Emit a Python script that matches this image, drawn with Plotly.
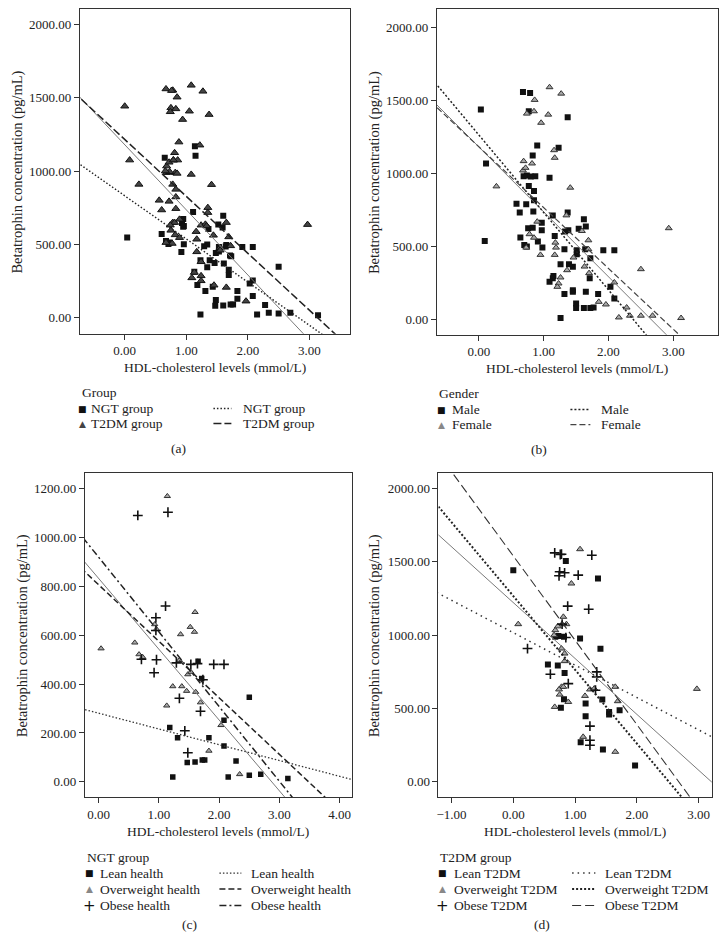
import plotly.graph_objects as go

# The page body has an 8px margin, so the figure is drawn 16px smaller and all
# reference pixel positions are shifted by that offset.
PAGE_W, PAGE_H, OFF = 727, 942, 8
W, H = PAGE_W - 2 * OFF, PAGE_H - 2 * OFF
FONT = "Liberation Serif"

# ---------------- data ----------------
# NGT group (panel c) by BMI class
ngt_lean_x = [1.65, 1.71, 2.50, 2.08, 1.18, 1.31, 1.83, 2.08, 1.47, 1.60, 1.72, 1.76, 2.28, 1.23, 2.15, 2.50, 2.69, 3.14]
ngt_lean_y = [494, 423, 346, 252, 222, 181, 181, 147, 79, 81, 89, 89, 85, 20, 20, 27, 31, 14]
ngt_ow_x = [1.14, 0.04, 1.60, 1.52, 1.59, 1.36, 0.60, 0.67, 0.73, 0.93, 0.96, 1.34, 1.48, 1.53, 1.23, 1.38, 1.46, 1.61, 1.69, 1.13, 2.03, 1.83, 2.34]
ngt_ow_y = [1170, 546, 695, 634, 614, 604, 570, 522, 511, 645, 625, 498, 440, 450, 391, 391, 372, 368, 325, 312, 232, 127, 31]
ngt_ob_x = [0.65, 1.15, 1.11, 0.95, 0.95, 0.71, 0.96, 0.92, 1.29, 1.53, 1.64, 1.91, 2.08, 1.34, 1.69, 1.43, 1.48, 1.73]
ngt_ob_y = [1091, 1104, 720, 672, 620, 502, 500, 447, 487, 481, 484, 481, 481, 342, 289, 209, 119, 418]

# T2DM group (panel d) by BMI class
t2_lean_x = [0.00, 0.85, 1.37, 1.08, 1.41, 0.68, 0.82, 0.73, 0.56, 0.72, 0.83, 0.82, 0.77, 1.17, 1.17, 1.44, 1.55, 1.55, 1.72, 1.09, 1.45, 1.97]
t2_lean_y = [1443, 1505, 1386, 977, 907, 989, 989, 995, 800, 793, 743, 564, 505, 534, 448, 561, 477, 459, 489, 270, 220, 111]
t2_ow_x = [1.08, 0.94, 0.08, 0.81, 0.79, 0.68, 0.66, 0.78, 0.83, 0.83, 0.78, 0.81, 0.74, 0.75, 0.67, 0.89, 1.16, 1.24, 1.31, 1.65, 1.69, 1.13, 1.65, 2.97, 0.72, 0.86]
t2_ow_y = [1586, 1352, 1075, 1125, 1075, 1034, 1000, 909, 875, 823, 648, 648, 630, 595, 511, 545, 586, 630, 636, 648, 550, 307, 205, 634, 1060, 1075]
t2_ob_x = [0.67, 0.78, 1.27, 0.75, 0.74, 0.83, 1.05, 0.88, 1.22, 0.79, 0.85, 0.23, 0.60, 0.89, 1.35, 1.35, 1.24, 1.24, 1.24, 1.33, 0.76]
t2_ob_y = [1561, 1552, 1545, 1432, 1405, 1425, 1409, 1198, 1177, 1075, 984, 909, 734, 670, 750, 716, 380, 284, 250, 625, 1550]

# Gender (panel b)
male_x = [0.03, 0.11, 0.09, 0.68, 0.79, 0.77, 1.37, 0.90, 1.23, 0.83, 1.09, 0.69, 0.74, 0.80, 0.87, 0.77, 0.85, 0.85,
          0.58, 0.73, 0.63, 0.84, 1.14, 1.37, 0.76, 0.83, 0.97, 0.97, 0.64, 1.17, 0.91, 0.70, 0.74, 0.98, 1.33, 1.38,
          1.32, 1.62, 1.54, 1.65, 1.51, 1.51, 1.64, 1.72, 1.92, 2.09, 1.26, 1.39, 1.45, 1.15, 1.14, 1.09, 1.32, 1.45,
          1.45, 1.65, 1.71, 1.84, 2.03, 2.09, 1.50, 1.50, 1.62, 1.72, 1.77, 1.26]
male_y = [1437, 1067, 536, 1558, 1551, 1425, 1384, 1190, 1174, 1122, 969, 980, 985, 978, 980, 912, 878, 814,
          791, 787, 730, 737, 711, 730, 623, 627, 661, 609, 559, 570, 531, 508, 497, 490, 600, 609,
          479, 684, 620, 634, 445, 472, 479, 417, 472, 472, 376, 376, 358, 296, 280, 255, 171, 198,
          187, 187, 280, 171, 221, 141, 107, 75, 75, 75, 80, 7]
female_x = [1.09, 1.27, 0.86, 0.74, 0.85, 1.07, 0.96, 1.16, 1.17, 0.69, 0.82, 0.68, 0.72, 0.27, 1.41, 0.90, 1.35,
            1.59, 1.69, 1.69, 0.78, 0.85, 0.73, 0.95, 1.17, 1.18, 1.19, 1.36, 1.26, 1.23, 1.21, 1.46, 1.63, 1.70,
            1.85, 1.96, 2.28, 2.33, 2.16, 2.50, 2.68, 2.50, 2.93, 3.12, 2.09]
female_y = [1590, 1546, 1503, 1409, 1425, 1402, 1346, 1158, 1106, 1083, 1067, 1019, 1037, 910, 901, 668, 711,
            604, 540, 479, 582, 558, 490, 440, 440, 524, 490, 335, 285, 244, 221, 422, 360, 315,
            118, 100, 79, 23, 11, 23, 23, 342, 623, 7, 251]

# Fit lines: (intercept, slope)
fit_a = {"Total": (1180, -445), "NGT group": (831, -295), "T2DM group": (1216, -389)}
fit_b = {"Total": (1180, -445), "Male": (1262, -531), "Female": (1181, -417)}
fit_c = {"Total": (833, -290), "Lean health": (281, -64.6), "Overweight health": (807, -231.6), "Obese health": (920, -306)}
fit_d = {"Total": (1222, -381), "Lean T2DM": (1017, -221), "Overweight T2DM": (1267, -503), "Obese T2DM": (1540, -575)}

# axis ranges
xr = {"a": [-0.73, 3.66], "b": [-0.65, 3.69], "c": [-0.23, 4.2], "d": [-1.21, 3.21]}
yr = {"a": [-111, 2104], "b": [-107, 2123], "c": [-64, 1264], "d": [-106, 2104]}
ydt = {"a": 500, "b": 500, "c": 200, "d": 500}

# page-pixel boxes of plot areas (left, top, right, bottom)
box = {"a": (78, 8.5, 349, 333), "b": (436, 8.5, 718, 334), "c": (83, 472.7, 350.7, 797.3), "d": (437.7, 472.7, 711.7, 797.3)}
axn = {"a": ("x", "y", ""), "b": ("x2", "y2", "2"), "c": ("x3", "y3", "3"), "d": ("x4", "y4", "4")}


def X(px):
    return (px - OFF) / W


def Y(py):
    return 1 - (py - OFF) / H


fig = go.Figure()

SQ = dict(symbol="square", size=6, color="#111", line=dict(width=0))
TRI_A = dict(symbol="triangle-up", size=7, color="#444", line=dict(width=1, color="#111"))
TRI = dict(symbol="triangle-up", size=6, color="#a8a8a8", line=dict(width=1, color="#333"))
PLUS = dict(symbol="cross-thin", size=7, line=dict(width=1.6, color="#111"))


def pts(p, xs, ys, marker):
    xa, ya, _ = axn[p]
    fig.add_trace(go.Scatter(x=xs, y=ys, mode="markers", marker=marker, xaxis=xa, yaxis=ya,
                             showlegend=False, hoverinfo="skip", cliponaxis=True))


def fit(p, coef, color, width, dash):
    xa, ya, _ = axn[p]
    a, b = coef
    xs = [xr[p][0] - 0.5, xr[p][1] + 0.5]
    ys = [a + b * v for v in xs]
    fig.add_trace(go.Scatter(x=xs, y=ys, mode="lines", line=dict(color=color, width=width, dash=dash),
                             xaxis=xa, yaxis=ya, showlegend=False, hoverinfo="skip"))


SOLID = ("#7a7a7a", 1, "solid")
STY = {
    "NGT group": ("#222", 1.4, "1.5px,2px"),
    "T2DM group": ("#222", 1.5, "8px,3px"),
    "Male": ("#222", 1.5, "2px,2px"),
    "Female": ("#444", 1.2, "6px,3px"),
    "Lean health": ("#333", 1.3, "1.5px,2px"),
    "Overweight health": ("#222", 1.5, "6px,3px"),
    "Obese health": ("#222", 1.5, "7px,3px,2px,3px"),
    "Lean T2DM": ("#333", 1.5, "1.5px,4px"),
    "Overweight T2DM": ("#222", 2, "2px,2px"),
    "Obese T2DM": ("#333", 1.1, "9px,4px"),
}

# Panel a
pts("a", ngt_lean_x + ngt_ow_x + ngt_ob_x, ngt_lean_y + ngt_ow_y + ngt_ob_y, SQ)
pts("a", t2_lean_x + t2_ow_x + t2_ob_x, t2_lean_y + t2_ow_y + t2_ob_y, TRI_A)
fit("a", fit_a["Total"], *SOLID)
fit("a", fit_a["NGT group"], *STY["NGT group"])
fit("a", fit_a["T2DM group"], *STY["T2DM group"])

# Panel b
pts("b", male_x, male_y, SQ)
pts("b", female_x, female_y, TRI)
fit("b", fit_b["Total"], *SOLID)
fit("b", fit_b["Male"], *STY["Male"])
fit("b", fit_b["Female"], *STY["Female"])

# Panel c
pts("c", ngt_lean_x, ngt_lean_y, dict(SQ, size=5.5))
pts("c", ngt_ow_x, ngt_ow_y, dict(TRI, size=5.5))
pts("c", ngt_ob_x, ngt_ob_y, PLUS)
fit("c", fit_c["Total"], *SOLID)
for k in ["Lean health", "Overweight health", "Obese health"]:
    fit("c", fit_c[k], *STY[k])

# Panel d
pts("d", t2_lean_x, t2_lean_y, SQ)
pts("d", t2_ow_x, t2_ow_y, TRI)
pts("d", t2_ob_x, t2_ob_y, PLUS)
fit("d", fit_d["Total"], *SOLID)
for k in ["Lean T2DM", "Overweight T2DM", "Obese T2DM"]:
    fit("d", fit_d[k], *STY[k])

layout = dict(width=W, height=H, margin=dict(l=0, r=0, t=0, b=0), plot_bgcolor="white",
              paper_bgcolor="white", showlegend=False, font=dict(family=FONT, size=13, color="#222"))

annotations = []
shapes = []
for p in "abcd":
    l, t, r, b = box[p]
    xa, ya, sfx = axn[p]
    common = dict(showline=True, mirror=True, linecolor="#333", linewidth=1, ticks="outside", ticklen=5,
                  tickcolor="#333", tickformat=".2f", showgrid=False, zeroline=False,
                  tickfont=dict(family=FONT, size=13, color="#222"), fixedrange=True)
    layout["xaxis" + sfx] = dict(common, domain=[X(l), X(r)], range=xr[p], dtick=1, tick0=0, anchor=ya)
    layout["yaxis" + sfx] = dict(common, domain=[Y(b), Y(t)], range=yr[p], dtick=ydt[p], tick0=0, anchor=xa)
    # axis titles
    annotations.append(dict(text="HDL-cholesterol levels (mmol/L)", xref="paper", yref="paper",
                            x=X((l + r) / 2), y=Y(b + 34), showarrow=False, xanchor="center", yanchor="middle",
                            font=dict(family=FONT, size=13.5, color="#222")))
    ytx = {"a": 16, "b": 373, "c": 20, "d": 373}[p]
    annotations.append(dict(text="Betatrophin concentration (pg/mL)", xref="paper", yref="paper",
                            x=X(ytx), y=Y((t + b) / 2), showarrow=False, textangle=-90, xanchor="center",
                            yanchor="middle", font=dict(family=FONT, size=14.5, color="#222")))

LEG = {
    "a": dict(title="Group", x0=78, sx=81, tx=87, lx0=212, lx1=230, ltx=240, ty=392, rows=[408, 423],
              items=[("sq", "NGT group"), ("tri_a", "T2DM group")], lab="(a)", labx=176.7, laby=448),
    "b": dict(title="Gender", x0=436, sx=441, tx=449, lx0=570, lx1=590, ltx=599, ty=393, rows=[409, 424],
              items=[("sq", "Male"), ("tri", "Female")], lab="(b)", labx=538, laby=449),
    "c": dict(title="NGT group", x0=83, sx=87.7, tx=96.7, lx0=218, lx1=240, ltx=248, ty=857, rows=[873, 889, 905.5],
              items=[("sq", "Lean health"), ("tri", "Overweight health"), ("plus", "Obese health")],
              lab="(c)", labx=187.7, laby=924),
    "d": dict(title="T2DM group", x0=437.7, sx=441.7, tx=451.7, lx0=571.7, lx1=595, ltx=602.7, ty=857,
              rows=[873, 889, 905.5],
              items=[("sq", "Lean T2DM"), ("tri", "Overweight T2DM"), ("plus", "Obese T2DM")],
              lab="(d)", labx=541.7, laby=924),
}
GLYPH = {"sq": ("■", "#111", 9), "tri_a": ("▲", "#444", 9), "tri": ("▲", "#888", 9), "plus": ("+", "#111", 15)}

lf = dict(family=FONT, size=13.5, color="#222")
for p, g in LEG.items():
    annotations.append(dict(text=g["title"], xref="paper", yref="paper", x=X(g["x0"]), y=Y(g["ty"]),
                            showarrow=False, xanchor="left", yanchor="middle", font=lf))
    for (kind, name), ry in zip(g["items"], g["rows"]):
        ch, col, sz = GLYPH[kind]
        annotations.append(dict(text=ch, xref="paper", yref="paper", x=X(g["sx"]), y=Y(ry), showarrow=False,
                                xanchor="center", yanchor="middle", font=dict(family="DejaVu Sans", size=sz, color=col)))
        annotations.append(dict(text=name, xref="paper", yref="paper", x=X(g["tx"]), y=Y(ry), showarrow=False,
                                xanchor="left", yanchor="middle", font=lf))
        col2, w2, d2 = STY[name]
        shapes.append(dict(type="line", xref="paper", yref="paper", x0=X(g["lx0"]), x1=X(g["lx1"]),
                           y0=Y(ry), y1=Y(ry), line=dict(color=col2, width=w2, dash=d2)))
        annotations.append(dict(text=name, xref="paper", yref="paper", x=X(g["ltx"]), y=Y(ry), showarrow=False,
                                xanchor="left", yanchor="middle", font=lf))
    annotations.append(dict(text=g["lab"], xref="paper", yref="paper", x=X(g["labx"]), y=Y(g["laby"]),
                            showarrow=False, xanchor="center", yanchor="middle", font=lf))

layout["annotations"] = annotations
layout["shapes"] = shapes
fig.update_layout(**layout)
fig.write_html("out.html", config={"displayModeBar": False})
